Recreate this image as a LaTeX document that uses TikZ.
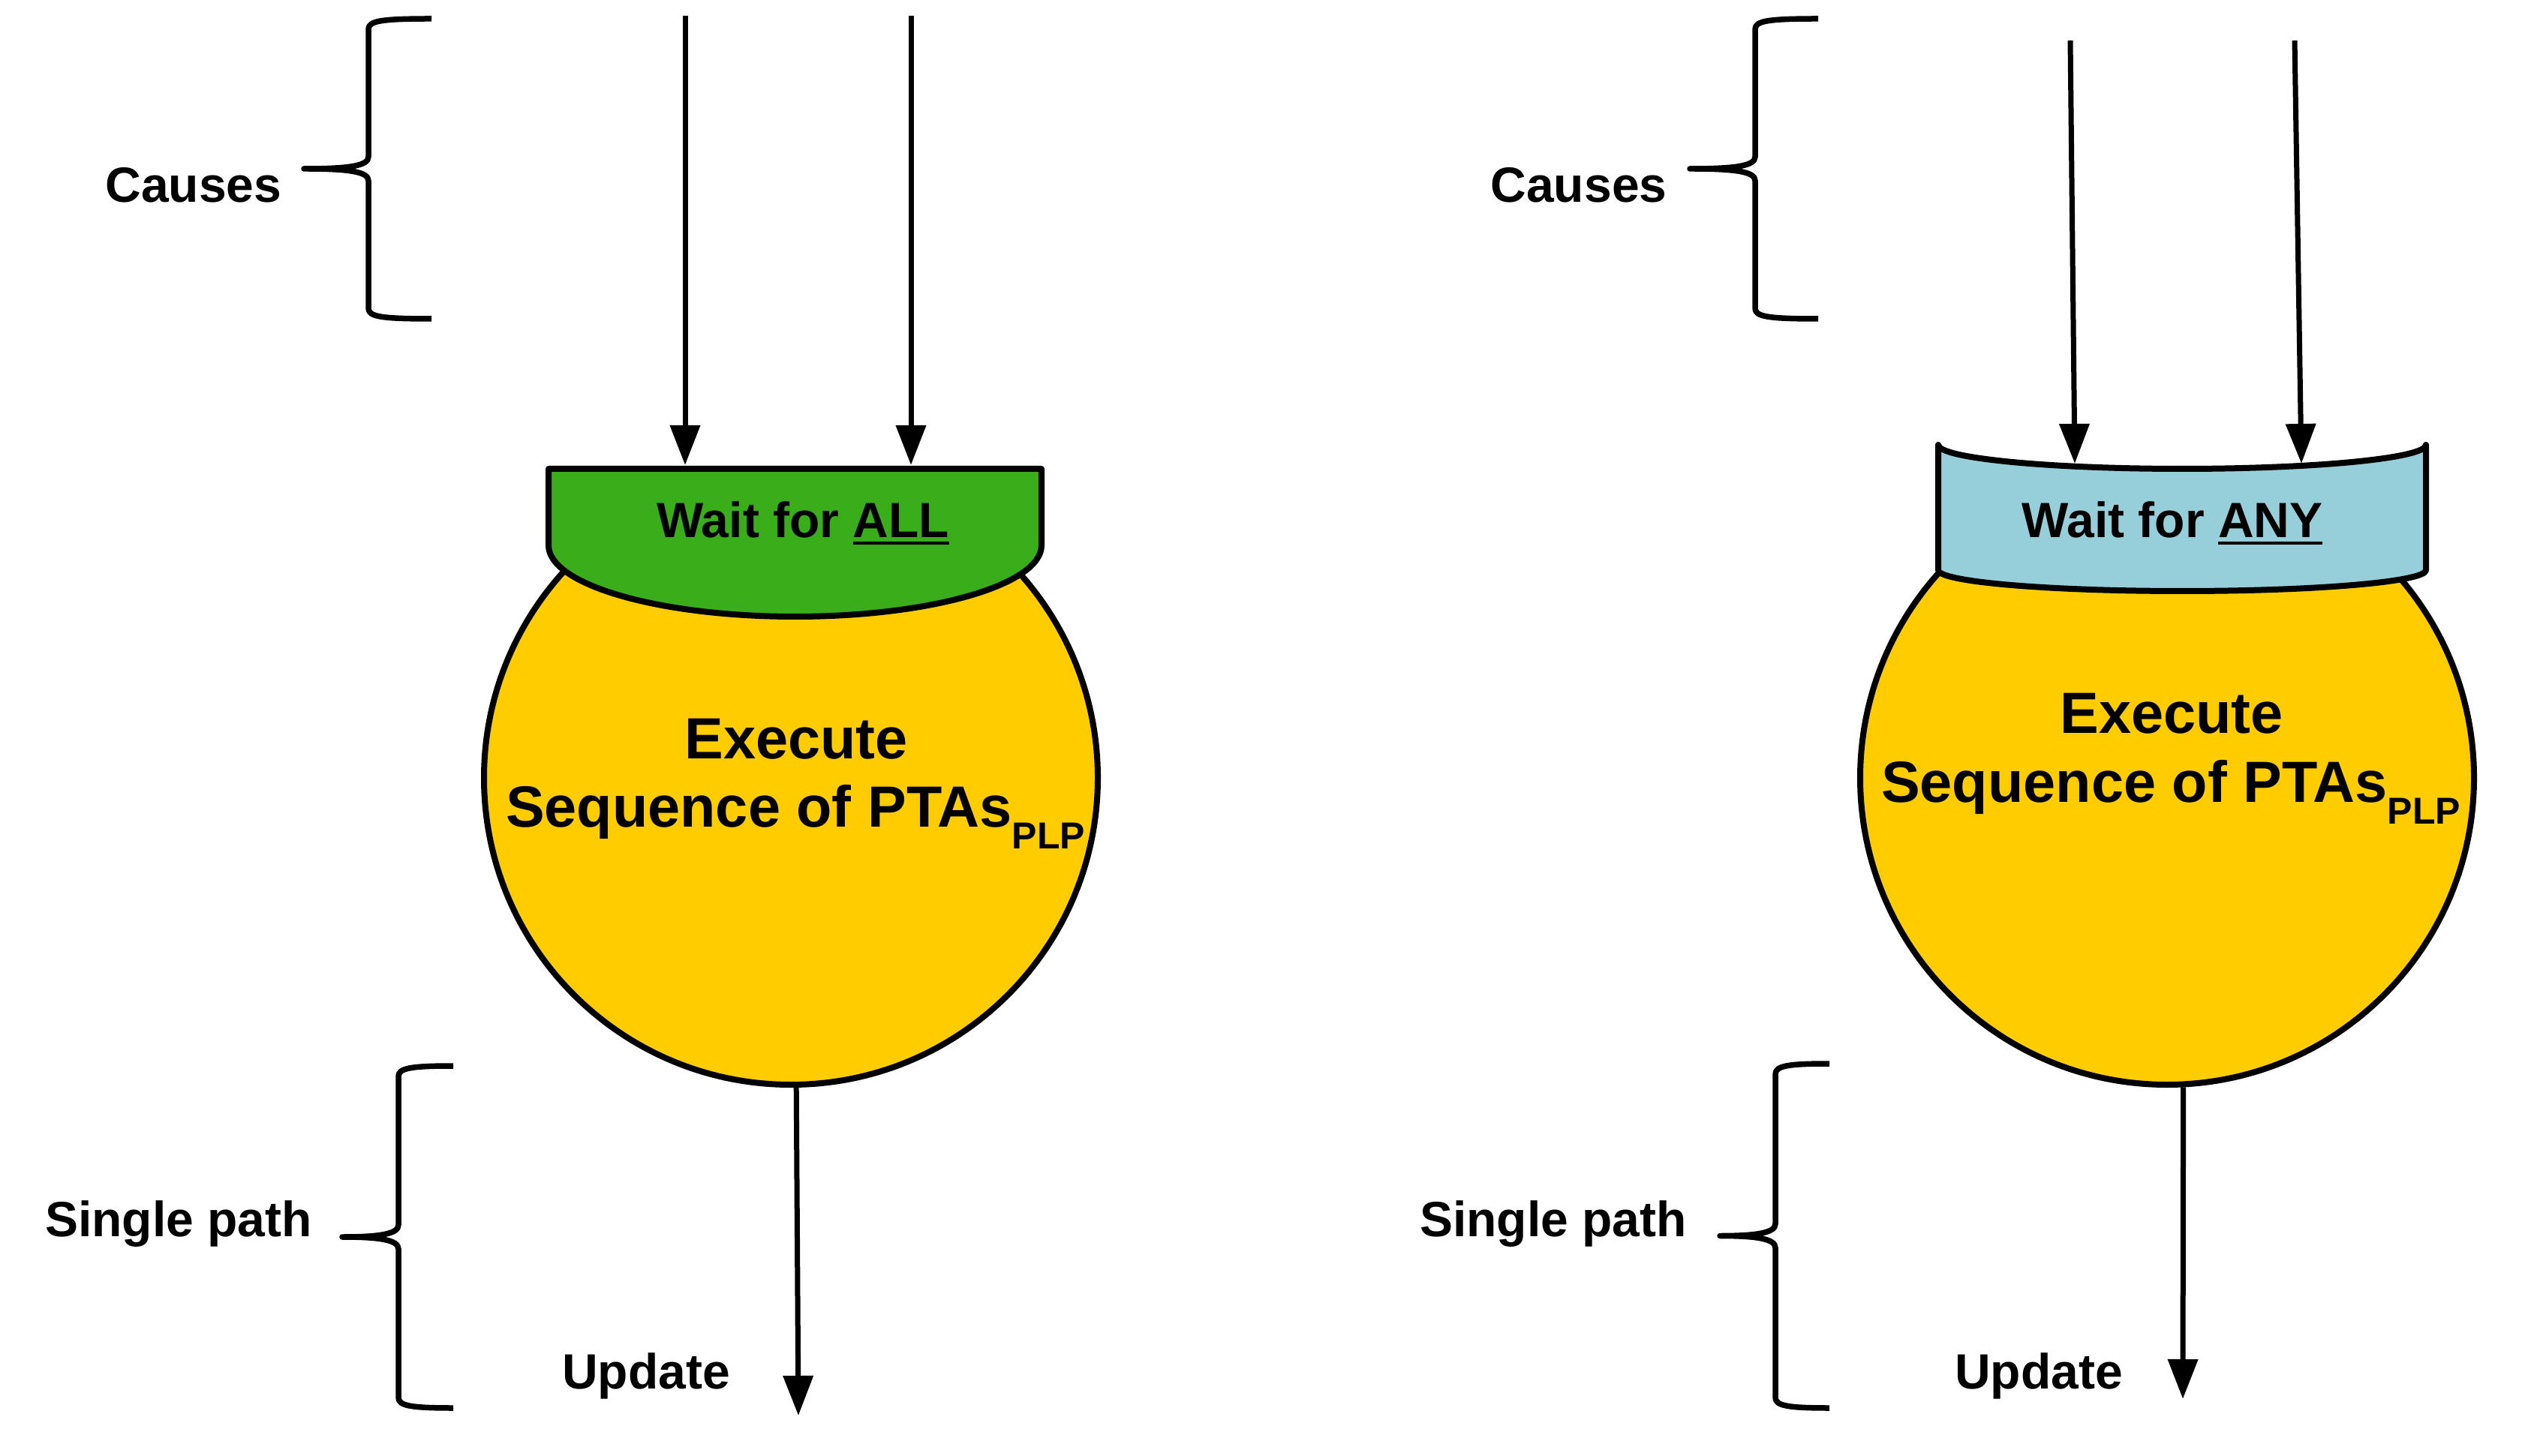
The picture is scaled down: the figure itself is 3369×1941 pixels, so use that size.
\documentclass[tikz,border=0pt]{standalone}
\usepackage{fontspec}
\setmainfont{Liberation Sans}
\usetikzlibrary{arrows.meta}
\definecolor{capgreen}{RGB}{58,174,26}
\definecolor{capblue}{RGB}{150,206,218}
\definecolor{ballyellow}{RGB}{255,204,0}
\newcommand{\myul}[1]{\setbox0\hbox{#1}\rlap{\rule[-1.8pt]{\wd0}{0.7pt}}\box0}
\newcommand{\plpsub}{\raisebox{-5.8pt}{\fontsize{10}{12}\selectfont PLP}}
% #1 tip x, #2 vertical x, #3 end x, #4 top y, #5 bottom y
\newcommand{\bracedraw}[5]{%
  \draw[bracestyle] (#3,#4) .. controls ({#2+16},#4) and (#2,{#4+3}) .. (#2,{#4+14})
   -- (#2,{(#4+#5)/2-16}) .. controls (#2,{(#4+#5)/2-4}) and ({#2-25},{(#4+#5)/2}) .. (#1,{(#4+#5)/2})
   .. controls ({#2-25},{(#4+#5)/2}) and (#2,{(#4+#5)/2+4}) .. (#2,{(#4+#5)/2+16})
   -- (#2,{#5-14}) .. controls (#2,{#5-3}) and ({#2+16},#5) .. (#3,#5);}
\begin{document}
\begin{tikzpicture}[x=0.2pt,y=-0.2pt,
  ball/.style={circle, draw, line width=1.6pt, fill=ballyellow, minimum size=163.6pt, inner sep=0pt},
  capline/.style={line width=1.6pt, line join=round},
  arr/.style={line width=1.4pt, -{Triangle[length=10.6pt,width=7.8pt]}},
  bracestyle/.style={line width=1.5pt, line join=round},
  lbl/.style={font=\fontsize{13.2}{15.8}\selectfont\bfseries, inner sep=0pt, anchor=base},
  big/.style={font=\fontsize{15.5}{18.6}\selectfont\bfseries, inner sep=0pt, anchor=base}]
\useasboundingbox (0,0) rectangle (3369,1941);

% ---------------- left ----------------
\node[ball] (exec1) at (1054,1037) {};
\draw[capline, fill=capgreen] (731,625) -- (1388,625) -- (1388,727)
  .. controls (1388,779.5) and (1241,822) .. (1059.5,822)
  .. controls (878,822) and (731,779.5) .. (731,727) -- cycle;
\node[lbl] (wait1) at (1070,717) {Wait for \myul{ALL}};
\node[big] (exe1) at (1061,1012) {Execute};
\node[big] (seq1) at (1060,1103) {Sequence of PTAs\plpsub};

\coordinate (in1a) at (913,21);
\coordinate (cap1a) at (913,620);
\coordinate (in1b) at (1214,21);
\coordinate (cap1b) at (1214,620);
\draw[arr] (in1a) -- (cap1a);
\draw[arr] (in1b) -- (cap1b);
\coordinate (out1) at (1064,1887);
\draw[arr] (exec1.-89.6) -- (out1);

\bracedraw{405}{491}{575}{25}{425}
\bracedraw{456}{531}{604}{1421}{1877}
\node[lbl] (causes1) at (258,270) {Causes};
\node[lbl] (single1) at (238,1648) {Single path};
\node[lbl] (update1) at (861,1851) {Update};

% ---------------- right ----------------
\node[ball] (exec2) at (2888,1037) {};
\draw[capline, fill=capblue] (2583,593)
  .. controls (2583,610.7) and (2728.5,625) .. (2908,625)
  .. controls (3087.5,625) and (3233,610.7) .. (3233,593)
  -- (3233,760)
  .. controls (3233,775.5) and (3087.5,788) .. (2908,788)
  .. controls (2728.5,788) and (2583,775.5) .. (2583,760) -- cycle;
\node[lbl] (wait2) at (2895,717) {Wait for \myul{ANY}};
\node[big] (exe2) at (2894,978) {Execute};
\node[big] (seq2) at (2893,1070) {Sequence of PTAs\plpsub};

\coordinate (in2a) at (2759,54);
\coordinate (cap2a) at (2765,618);
\coordinate (in2b) at (3058,54);
\coordinate (cap2b) at (3067,618);
\draw[arr] (in2a) -- (cap2a);
\draw[arr] (in2b) -- (cap2b);
\coordinate (out2) at (2909,1865);
\draw[arr] (exec2.-87.6) -- (out2);

\bracedraw{2252}{2339}{2423}{25}{425}
\bracedraw{2292}{2366}{2438}{1418}{1877}
\node[lbl] (causes2) at (2104,270) {Causes};
\node[lbl] (single2) at (2070,1648) {Single path};
\node[lbl] (update2) at (2717,1851) {Update};
\end{tikzpicture}
\end{document}
